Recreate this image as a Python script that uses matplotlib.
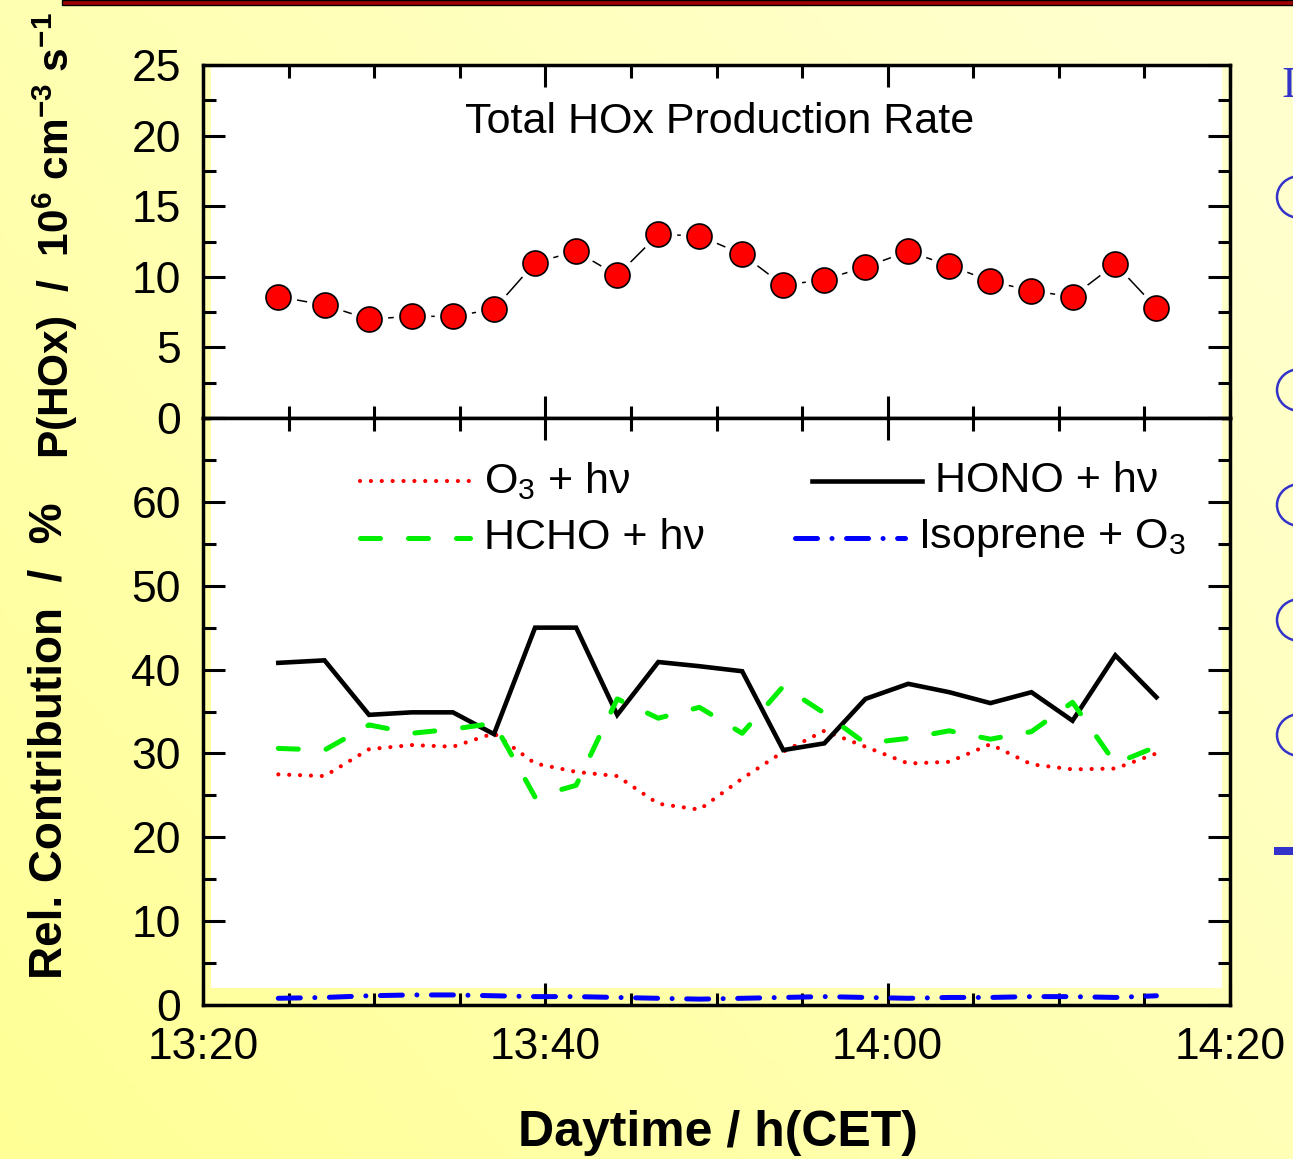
import matplotlib.pyplot as plt
import numpy as np
from matplotlib.patches import Rectangle, Ellipse
from matplotlib.lines import Line2D
from matplotlib.ticker import MultipleLocator, FuncFormatter

plt.rcParams['font.family'] = ['Liberation Sans', 'DejaVu Sans']
plt.rcParams['mathtext.fontset'] = 'custom'
plt.rcParams['mathtext.rm'] = 'Liberation Sans'
plt.rcParams['mathtext.it'] = 'Liberation Sans:italic'
plt.rcParams['mathtext.bf'] = 'Liberation Sans:bold'

# Data (time in minutes after 13:00)
time_min = [24.4, 27.1, 29.7, 32.2, 34.6, 37.0, 39.4, 41.8, 44.2, 46.6, 49.0,
            51.5, 53.9, 56.3, 58.7, 61.2, 63.6, 66.0, 68.4, 70.8, 73.3, 75.7]
p_hox = [8.6, 8.0, 7.0, 7.2, 7.2, 7.7, 11.0, 11.8, 10.1, 13.0, 12.9,
         11.6, 9.4, 9.8, 10.7, 11.8, 10.8, 9.7, 9.0, 8.6, 10.9, 7.8]
o3_hv = [27.5, 27.3, 30.5, 31.0, 30.8, 32.4, 28.8, 27.8, 27.3, 24.0, 23.3,
         27.0, 30.2, 32.7, 30.8, 28.8, 29.0, 31.1, 28.7, 28.1, 28.2, 30.0]
hono_hv = [40.8, 41.1, 34.6, 34.9, 34.9, 32.3, 45.0, 45.0, 34.6, 40.9, 40.4,
           39.8, 30.4, 31.2, 36.5, 38.3, 37.3, 36.0, 37.3, 33.9, 41.7, 36.7]
hcho_hv = [30.6, 30.4, 33.4, 32.4, 32.9, 33.6, 24.8, 26.2, 36.5, 34.2, 35.5,
           32.4, 38.0, 34.8, 31.2, 31.8, 32.7, 31.7, 32.6, 36.1, 28.8, 30.8]
isoprene_o3 = [0.8, 0.9, 1.1, 1.2, 1.2, 1.1, 1.0, 1.0, 0.9, 0.8, 0.7,
               0.8, 0.9, 1.0, 0.9, 0.8, 0.9, 0.9, 1.0, 1.0, 0.9, 1.1]

W, H = 1293, 1159
fig = plt.figure(figsize=(W / 100, H / 100), dpi=100)

# yellow gradient background
bg = fig.add_axes([0, 0, 1, 1], zorder=-10)
gx, gy = np.meshgrid(np.linspace(0, 1, 200), np.linspace(0, 1, 200))
blue = 150 + 55 * np.clip(0.6 * gx + 0.5 * gy, 0, 1)
img = np.dstack([np.ones_like(gx), np.ones_like(gx), blue / 255])
bg.imshow(img, aspect='auto', extent=[0, 1, 0, 1], origin='lower')
bg.axis('off')

left, width = 203 / W, 1027 / W
ax1 = fig.add_axes([left, 1 - 418 / H, width, 353 / H])
ax2 = fig.add_axes([left, 1 - 1005 / H, width, 587 / H])

for ax, ybot in [(ax1, 0), (ax2, 17 / 587)]:
    ax.set_facecolor('none')
    ax.add_patch(Rectangle((8 / 1027, ybot), 1011 / 1027, 1 - ybot,
                           transform=ax.transAxes, fc='white', ec='none', zorder=0))
    ax.set_xlim(20, 80)
    ax.xaxis.set_major_locator(MultipleLocator(20))
    ax.xaxis.set_minor_locator(MultipleLocator(5))
    ax.tick_params(which='both', direction='in', top=True, right=True, width=2.2,
                   labelsize=32, pad=16)
    ax.tick_params(which='major', length=16)
    ax.tick_params(which='minor', length=9)
    for s in ax.spines.values():
        s.set_linewidth(2.5)

# top panel
ax1.plot(time_min, p_hox, color='black', lw=1.1, zorder=2)
ax1.plot(time_min, p_hox, 'o', ms=27, mfc='white', mec='none', zorder=3)
ax1.plot(time_min, p_hox, 'o', ms=18, mfc='#FF0000', mec='black', mew=1.2, zorder=4)
ax1.set_ylim(0, 25)
ax1.yaxis.set_major_locator(MultipleLocator(5))
ax1.yaxis.set_minor_locator(MultipleLocator(2.5))
ax1.tick_params(labelbottom=False)
ax1.text(0.503, 0.839, 'Total HOx Production Rate', transform=ax1.transAxes,
         ha='center', va='center', fontsize=31)

# bottom panel
styles = [
    (o3_hv, '#FF0000', 3.0, (0, (0.01, 2.6))),
    (hono_hv, 'black', 3.3, '-'),
    (hcho_hv, '#00EE00', 3.6, (0, (4.0, 5.6))),
    (isoprene_o3, '#0000FF', 3.6, (0, (4.4, 2.9, 0.01, 2.9))),
]
for vals, c, lw, ls in styles:
    ax2.plot(time_min, vals, color=c, lw=lw, ls=ls, dash_capstyle='round',
             solid_joinstyle='miter', zorder=3)
ax2.set_ylim(0, 70)
ax2.set_yticks(range(0, 71, 10))
ax2.yaxis.set_minor_locator(MultipleLocator(5))
ax2.yaxis.set_major_formatter(FuncFormatter(lambda v, _: '' if v > 65 else f'{v:.0f}'))
ax2.xaxis.set_major_formatter(FuncFormatter(lambda v, _: f'{13 + int(v) // 60}:{int(v) % 60:02d}'))

# legend
legend_items = [
    (360, 470, 481, 484, 'O$_3$ + h\u03bd', 0),
    (812, 922, 481, 935, 'HONO + h\u03bd', 1),
    (360, 470, 538, 484, 'HCHO + h\u03bd', 2),
    (795, 905, 538, 918, 'Isoprene + O$_3$', 3),
]
for x0, x1, yp, xt, label, i in legend_items:
    _, c, lw, ls = styles[i]
    fx = [(x0 - 203) / 1027, (x1 - 203) / 1027]
    fy = (1005 - yp) / 587
    ax2.add_line(Line2D(fx, [fy, fy], transform=ax2.transAxes, color=c, lw=lw,
                        ls=ls, dash_capstyle='round'))
    ax2.text((xt - 203) / 1027, fy, label, transform=ax2.transAxes,
             ha='left', va='center', fontsize=31)

# axis labels
fig.text(55 / W, 1 - 236 / H,
         r'P(HOx)  /  10$^\mathbf{6}$ cm$^\mathbf{-3}$ s$^\mathbf{-1}$',
         rotation=90, ha='center', va='center', fontsize=30.5, fontweight='bold')
fig.text(50 / W, 1 - 741 / H, 'Rel. Contribution  /  %',
         rotation=90, ha='center', va='center', fontsize=33, fontweight='bold')
fig.text(718 / W, 1 - 1133 / H, 'Daytime / h(CET)',
         ha='center', va='center', fontsize=36, fontweight='bold')

# slide decorations
fig.add_artist(Rectangle((62 / W, 1 - 5 / H), (W - 62) / W, 5 / H,
                         transform=fig.transFigure, fc='#A00000', ec='black', lw=1))
for yc in [197, 390, 505, 620, 735]:
    fig.add_artist(Ellipse((1300 / W, 1 - yc / H), 46 / W, 42 / H,
                           transform=fig.transFigure, fill=False, ec='#3333CC', lw=1.8))
fig.add_artist(Rectangle((1274 / W, 1 - 855 / H), 19 / W, 8 / H,
                         transform=fig.transFigure, fc='#3333CC', ec='none'))
fig.text(1281 / W, 1 - 86 / H, 'I', color='#3333CC', family='Liberation Serif',
         fontsize=32, ha='left', va='center')

fig.savefig('out.png', dpi=100)
